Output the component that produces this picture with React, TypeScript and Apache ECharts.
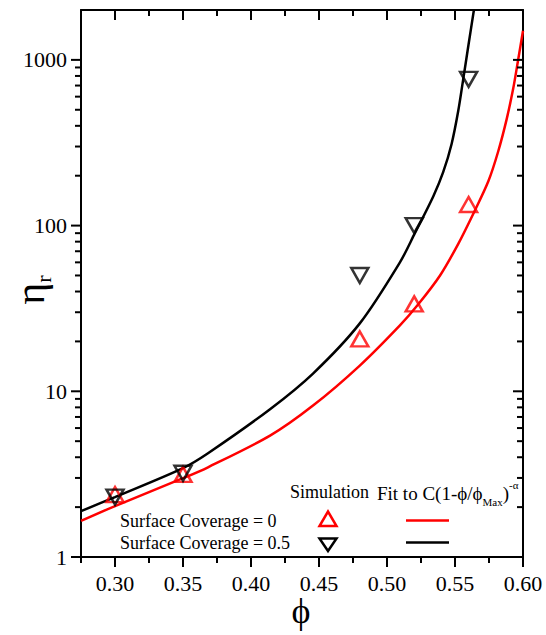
import React, { useEffect, useRef } from 'react';
import * as echarts from 'echarts';

// Simulation data (volume fraction phi vs relative viscosity)
const phiSim = [0.30, 0.35, 0.48, 0.52, 0.56];
const etaCoverage0 = [2.38, 3.15, 20.7, 33.7, 134];
const etaCoverage05 = [2.3, 3.2, 50, 100, 763];

// Fit curves
const fitPhi0 = [0.275, 0.30, 0.35, 0.3684, 0.414, 0.4456, 0.48, 0.5095, 0.523, 0.539, 0.5524, 0.5639, 0.5745, 0.5818, 0.588, 0.5928, 0.5965, 0.60];
const fitEta0 = [1.65, 2.03, 2.99, 3.48, 5.4, 8.2, 14.3, 25.0, 33.5, 50, 77.6, 120, 185, 281, 439, 671, 1008, 1500];
const fitPhi05 = [0.275, 0.30, 0.35, 0.3684, 0.414, 0.4456, 0.48, 0.5095, 0.5205, 0.534, 0.5413, 0.5475, 0.5524, 0.556, 0.5597, 0.5639];
const fitEta05 = [1.89, 2.30, 3.44, 4.23, 7.8, 12.8, 25.7, 60, 90, 150, 210, 311, 493, 760, 1200, 2000];

// Ticks
const xMajorTicks = [0.30, 0.35, 0.40, 0.45, 0.50, 0.55, 0.60];
const xMinorTicks = [0.275, 0.325, 0.375, 0.425, 0.475, 0.525, 0.575];
const yMajorTicks = [1, 10, 100, 1000];
const yMinorTicks = [2, 3, 4, 5, 6, 7, 8, 9, 20, 30, 40, 50, 60, 70, 80, 90, 200, 300, 400, 500, 600, 700, 800, 900];

const X_MIN = 0.275;
const X_MAX = 0.6;
const Y_MIN = 1;
const Y_MAX = 2000;

const FONT = '"Liberation Serif", "Times New Roman", serif';
const RED = '#ff0000';
const BLACK = '#000000';

const lineStyle = { color: BLACK, width: 2 };
const MAJOR_LEN = 10;
const MINOR_LEN = 6;
const TICK_W = 2;

export default function App() {
  const ref = useRef<HTMLDivElement>(null);
  useEffect(() => {
    const chart = echarts.init(ref.current!, null, { renderer: 'svg' });

    const xTickItems: any[] = [];
    const addX = (v: number, len: number) => {
      // bottom axis: outward; top axis: inward
      xTickItems.push({ value: [v, Y_MIN], symbolSize: [TICK_W, len], symbolOffset: [0, len / 2] });
      xTickItems.push({ value: [v, Y_MAX], symbolSize: [TICK_W, len], symbolOffset: [0, len / 2] });
    };
    xMajorTicks.forEach((v) => addX(v, MAJOR_LEN));
    xMinorTicks.forEach((v) => addX(v, MINOR_LEN));

    const yTickItems: any[] = [];
    const addY = (v: number, len: number) => {
      // left axis: outward; right axis: inward
      yTickItems.push({ value: [X_MIN, v], symbolSize: [len, TICK_W], symbolOffset: [-len / 2, 0] });
      yTickItems.push({ value: [X_MAX, v], symbolSize: [len, TICK_W], symbolOffset: [-len / 2, 0] });
    };
    yMajorTicks.forEach((v) => addY(v, MAJOR_LEN));
    yMinorTicks.forEach((v) => addY(v, MINOR_LEN));

    const option: any = {
      animation: false,
      backgroundColor: '#ffffff',
      grid: { left: 81, right: 23, top: 10, bottom: 78, containLabel: false },
      xAxis: [
        {
          type: 'value',
          position: 'bottom',
          min: X_MIN,
          max: X_MAX,
          interval: 0.025,
          splitLine: { show: false },
          axisLine: { show: true, onZero: false, lineStyle },
          axisTick: { show: false },
          axisLabel: {
            show: true,
            customValues: xMajorTicks,
            formatter: (v: number) => v.toFixed(2),
            fontFamily: FONT,
            fontSize: 22,
            color: BLACK,
            margin: 15,
          },
        },
        {
          type: 'value',
          position: 'top',
          min: X_MIN,
          max: X_MAX,
          interval: 0.025,
          splitLine: { show: false },
          axisLine: { show: true, onZero: false, lineStyle },
          axisTick: { show: false },
          axisLabel: { show: false },
        },
      ],
      yAxis: [
        {
          type: 'log',
          logBase: 10,
          position: 'left',
          min: Y_MIN,
          max: Y_MAX,
          splitLine: { show: false },
          axisLine: { show: true, onZero: false, lineStyle },
          axisTick: { show: false },
          axisLabel: {
            show: true,
            customValues: yMajorTicks,
            formatter: (v: number) => String(Math.round(v)),
            fontFamily: FONT,
            fontSize: 22,
            color: BLACK,
            margin: 14,
          },
        },
        {
          type: 'log',
          logBase: 10,
          position: 'right',
          min: Y_MIN,
          max: Y_MAX,
          splitLine: { show: false },
          axisLine: { show: true, onZero: false, lineStyle },
          axisTick: { show: false },
          axisLabel: { show: false },
        },
      ],
      series: [
        {
          type: 'line',
          name: 'Fit 0',
          data: fitPhi0.map((x, i) => [x, fitEta0[i]]),
          symbol: 'none',
          smooth: 0.3,
          lineStyle: { color: RED, width: 2.5 },
          clip: true,
          z: 2,
        },
        {
          type: 'line',
          name: 'Fit 0.5',
          data: fitPhi05.map((x, i) => [x, fitEta05[i]]),
          symbol: 'none',
          smooth: 0.3,
          lineStyle: { color: BLACK, width: 2.5 },
          clip: true,
          z: 2,
        },
        {
          type: 'scatter',
          name: 'Surface Coverage = 0',
          data: phiSim.map((x, i) => [x, etaCoverage0[i]]),
          symbol: 'triangle',
          symbolSize: [17, 15],
          itemStyle: { color: 'transparent', borderColor: RED, borderWidth: 2.5 },
          z: 3,
        },
        {
          type: 'scatter',
          name: 'Surface Coverage = 0.5',
          data: phiSim.map((x, i) => [x, etaCoverage05[i]]),
          symbol: 'triangle',
          symbolRotate: 180,
          symbolSize: [17, 15],
          itemStyle: { color: 'transparent', borderColor: BLACK, borderWidth: 2.5 },
          z: 3,
        },
        {
          type: 'scatter',
          name: 'x ticks',
          data: xTickItems,
          symbol: 'rect',
          itemStyle: { color: BLACK, opacity: 1 },
          silent: true,
          clip: false,
          z: 6,
        },
        {
          type: 'scatter',
          name: 'y ticks',
          data: yTickItems,
          symbol: 'rect',
          itemStyle: { color: BLACK, opacity: 1 },
          silent: true,
          clip: false,
          z: 6,
        },
      ],
      graphic: [
        {
          type: 'text',
          x: 301,
          y: 611,
          style: { text: 'ϕ', fontFamily: FONT, fontSize: 36, fill: BLACK, align: 'center', verticalAlign: 'middle' },
        },
        {
          type: 'text',
          x: 30,
          y: 290,
          rotation: Math.PI / 2,
          style: {
            text: '{a|η}{b|r}',
            align: 'center',
            verticalAlign: 'middle',
            rich: {
              a: { fontFamily: FONT, fontSize: 42, fill: BLACK, lineHeight: 48, verticalAlign: 'middle' },
              b: { fontFamily: FONT, fontSize: 22, fill: BLACK, lineHeight: 22, verticalAlign: 'bottom' },
            },
          },
        },
        {
          type: 'text',
          x: 290,
          y: 492,
          style: { text: 'Simulation', fontFamily: FONT, fontSize: 18, fill: BLACK, align: 'left', verticalAlign: 'middle' },
        },
        {
          type: 'text',
          x: 377,
          y: 493,
          style: {
            text: 'Fit to C(1-ϕ/ϕ{sub|Max}){sup|-α}',
            fontFamily: FONT,
            fontSize: 19,
            lineHeight: 28,
            fill: BLACK,
            align: 'left',
            verticalAlign: 'middle',
            rich: {
              sub: { fontFamily: FONT, fontSize: 11, fill: BLACK, lineHeight: 12, verticalAlign: 'bottom' },
              sup: { fontFamily: FONT, fontSize: 11, fill: BLACK, lineHeight: 14, verticalAlign: 'top' },
            },
          },
        },
        {
          type: 'text',
          x: 120,
          y: 521,
          style: { text: 'Surface Coverage = 0', fontFamily: FONT, fontSize: 18, fill: BLACK, align: 'left', verticalAlign: 'middle' },
        },
        {
          type: 'text',
          x: 120,
          y: 543,
          style: { text: 'Surface Coverage = 0.5', fontFamily: FONT, fontSize: 18, fill: BLACK, align: 'left', verticalAlign: 'middle' },
        },
        {
          type: 'polygon',
          shape: { points: [[319.5, 526], [336.5, 526], [328, 511.5]] },
          style: { fill: 'none', stroke: RED, lineWidth: 2.5 },
        },
        {
          type: 'polygon',
          shape: { points: [[319.5, 538.5], [336.5, 538.5], [328, 551]] },
          style: { fill: 'none', stroke: BLACK, lineWidth: 2.5 },
        },
        {
          type: 'line',
          shape: { x1: 406, y1: 520.5, x2: 449, y2: 520.5 },
          style: { stroke: RED, lineWidth: 2.5 },
        },
        {
          type: 'line',
          shape: { x1: 406, y1: 542.5, x2: 449, y2: 542.5 },
          style: { stroke: BLACK, lineWidth: 2.5 },
        },
      ],
    };
    chart.setOption(option);
    return () => chart.dispose();
  }, []);
  return <div ref={ref} style={{ position: 'absolute', left: 0, top: 0, width: 546, height: 635 }} />;
}
